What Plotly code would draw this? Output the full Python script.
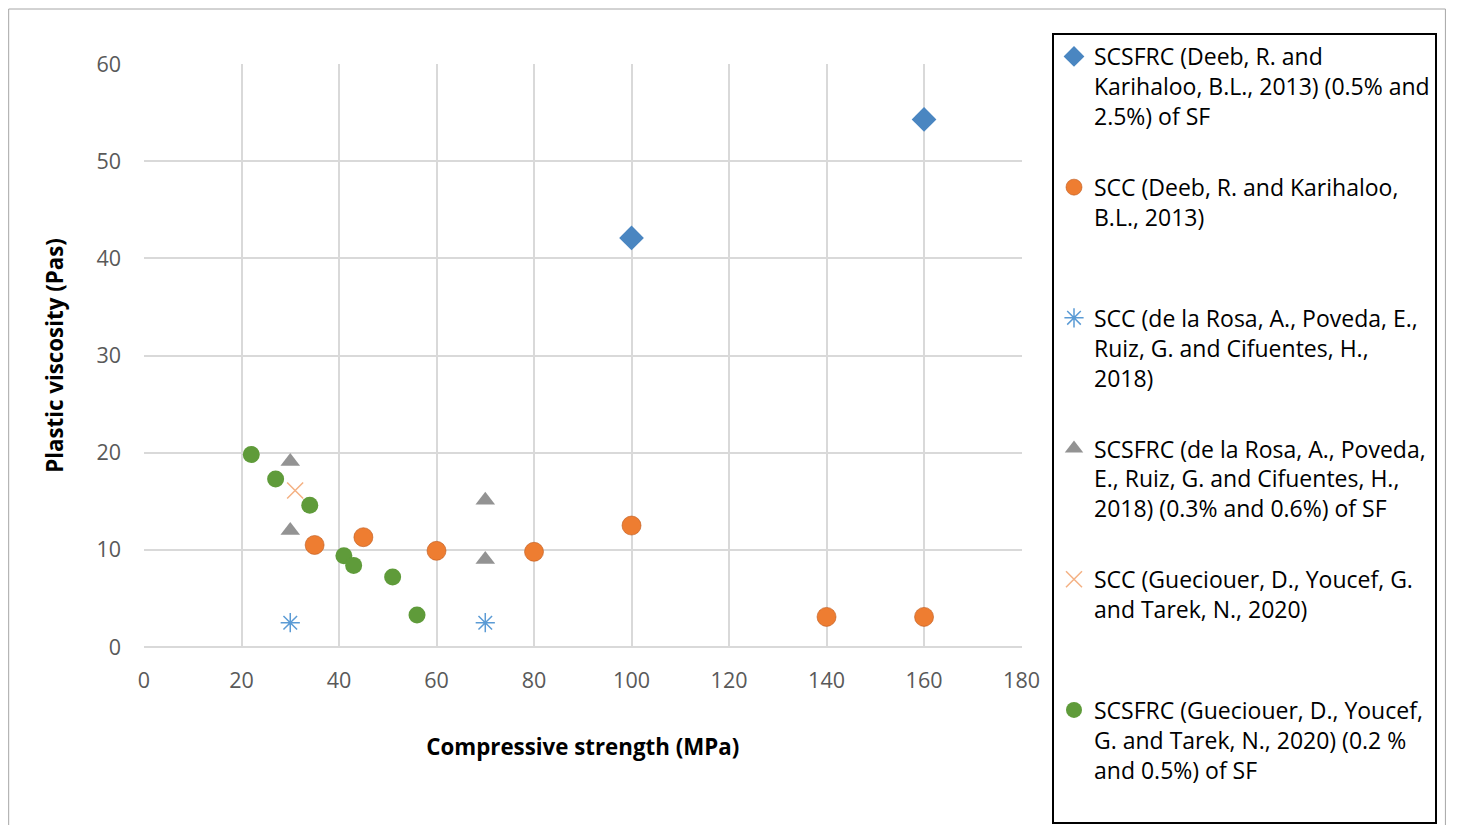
import plotly.graph_objects as go

# ---- data ----
deeb_scsfrc_x = [100, 160]
deeb_scsfrc_y = [42.1, 54.3]

deeb_scc_x = [35, 45, 60, 80, 100, 140, 160]
deeb_scc_y = [10.5, 11.3, 9.9, 9.8, 12.5, 3.1, 3.1]

rosa_scc_x = [30, 70]
rosa_scc_y = [2.5, 2.5]

rosa_scsfrc_x = [30, 30, 70, 70]
rosa_scsfrc_y = [19.1, 12.0, 15.1, 9.0]

guec_scc_x = [31]
guec_scc_y = [16.1]

guec_scsfrc_x = [22, 27, 34, 41, 43, 51, 56]
guec_scsfrc_y = [19.8, 17.3, 14.6, 9.4, 8.4, 7.2, 3.3]

names = [
    "SCSFRC (Deeb, R. and<br>Karihaloo, B.L., 2013) (0.5% and<br>2.5%) of SF",
    "SCC (Deeb, R. and Karihaloo,<br>B.L., 2013)<br>\u00a0",
    "SCC (de la Rosa, A., Poveda, E.,<br>Ruiz, G. and Cifuentes, H.,<br>2018)",
    "SCSFRC (de la Rosa, A., Poveda,<br>E., Ruiz, G. and Cifuentes, H.,<br>2018) (0.3% and 0.6%) of SF",
    "SCC (Gueciouer, D., Youcef, G.<br>and Tarek, N., 2020)<br>\u00a0",
    "SCSFRC (Gueciouer, D., Youcef,<br>G. and Tarek, N., 2020) (0.2 %<br>and 0.5%) of SF<br>\u00a0",
]

FONT = "Open Sans"

fig = go.Figure()
fig.add_trace(go.Scatter(x=deeb_scsfrc_x, y=deeb_scsfrc_y, mode="markers", name=names[0],
                         legendgroup="a",
                         marker=dict(symbol="diamond", size=19, color="#4A86C1")))
fig.add_trace(go.Scatter(x=deeb_scc_x, y=deeb_scc_y, mode="markers", name=names[1],
                         legendgroup="b",
                         marker=dict(symbol="circle", size=19, color="#EE7D31",
                                     line=dict(width=1, color="rgba(190,90,30,0.6)"))))
fig.add_trace(go.Scatter(x=rosa_scc_x, y=rosa_scc_y, mode="markers", name=names[2],
                         legendgroup="c",
                         marker=dict(symbol="asterisk-open", size=16, color="#5B9BD5",
                                     line=dict(color="#5B9BD5", width=1.5))))
fig.add_trace(go.Scatter(x=rosa_scsfrc_x, y=rosa_scsfrc_y, mode="markers", name=names[3],
                         legendgroup="d",
                         marker=dict(symbol="triangle-up", size=17, color="#939393")))
fig.add_trace(go.Scatter(x=guec_scc_x, y=guec_scc_y, mode="markers", name=names[4],
                         legendgroup="e",
                         marker=dict(symbol="x-thin-open", size=16, color="#F4B183",
                                     line=dict(color="#F4B183", width=1.5))))
fig.add_trace(go.Scatter(x=guec_scsfrc_x, y=guec_scsfrc_y, mode="markers", name=names[5],
                         legendgroup="f",
                         marker=dict(symbol="circle", size=17, color="#5F9B3A")))

fig.update_layout(
    width=1458, height=825,
    margin=dict(l=144, r=432, t=64, b=178),
    paper_bgcolor="white", plot_bgcolor="white",
    font=dict(family=FONT, color="#595959", size=21),
    xaxis=dict(range=[0, 180], dtick=20, tick0=0, showgrid=True, gridcolor="#D9D9D9",
               gridwidth=1.5, zeroline=False, showline=False, ticks="",
               tickfont=dict(size=21.5, color="#595959"), ticklabelstandoff=18,
               title=dict(text="<b>Compressive strength (MPa)</b>",
                          font=dict(size=22.3, color="black"), standoff=46)),
    yaxis=dict(range=[0, 60], dtick=10, tick0=0, showgrid=True, gridcolor="#D9D9D9",
               gridwidth=1.5, zeroline=True, zerolinecolor="#D9D9D9", zerolinewidth=1.5,
               showline=False, ticks="",
               tickfont=dict(size=21.5, color="#595959"), ticklabelstandoff=22,
               title=dict(text="<b>Plastic viscosity (Pas)</b>",
                          font=dict(size=22.3, color="black"), standoff=26)),
    legend=dict(xref="container", yref="container", x=1052/1458, y=1-33/825,
                xanchor="left", yanchor="top",
                bordercolor="black", borderwidth=2, bgcolor="white",
                font=dict(family=FONT, size=23, color="black"),
                valign="top", tracegroupgap=38, itemwidth=30, maxheight=800),
    showlegend=True,
    shapes=[dict(type="rect", xref="paper", yref="paper",
                 x0=(8-144)/882, x1=(1452-144)/882,
                 y0=(647-840)/583, y1=(647-9)/583,
                 line=dict(color="#A6A6A6", width=1), fillcolor="rgba(0,0,0,0)",
                 layer="below")],
)

fig.write_html("out.html")
